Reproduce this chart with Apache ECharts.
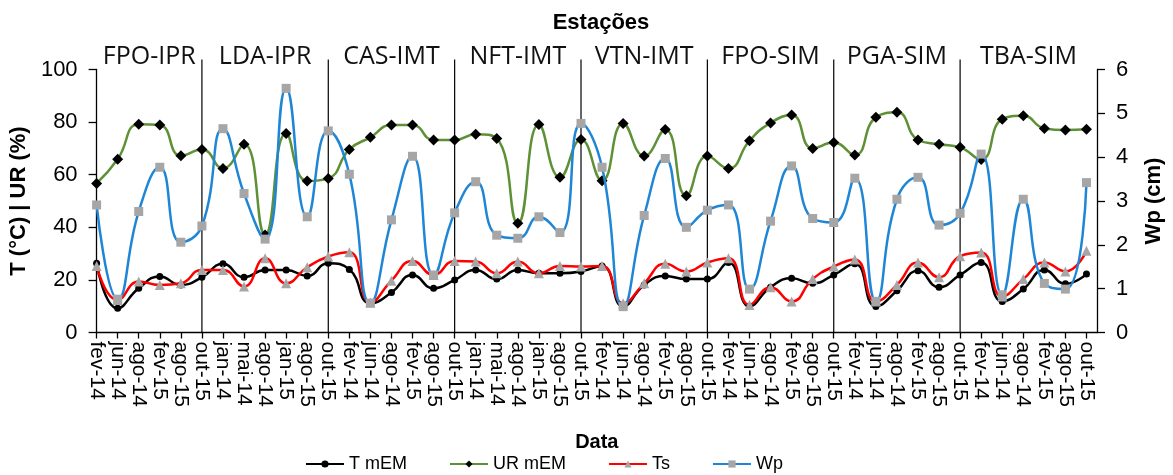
<!DOCTYPE html>
<html>
<head>
<meta charset="utf-8">
<script src="https://cdn.jsdelivr.net/npm/echarts@6/dist/echarts.min.js"></script>
<style>
  html, body { margin: 0; padding: 0; background: #fff; }
  #chart { width: 1173px; height: 475px; }
</style>
</head>
<body>
<div id="chart"></div>
<script>
// Stations, each with six sampling dates
const stations = ['FPO-IPR', 'LDA-IPR', 'CAS-IMT', 'NFT-IMT', 'VTN-IMT', 'FPO-SIM', 'PGA-SIM', 'TBA-SIM'];

const dateLabels = [
  'fev-14', 'jun-14', 'ago-14', 'fev-15', 'ago-15', 'out-15',
  'jan-14', 'mai-14', 'ago-14', 'jan-15', 'ago-15', 'out-15',
  'fev-14', 'jun-14', 'ago-14', 'fev-15', 'ago-15', 'out-15',
  'jan-14', 'mai-14', 'ago-14', 'jan-15', 'ago-15', 'out-15',
  'fev-14', 'jun-14', 'ago-14', 'fev-15', 'ago-15', 'out-15',
  'fev-14', 'jun-14', 'ago-14', 'fev-15', 'ago-15', 'out-15',
  'fev-14', 'jun-14', 'ago-14', 'fev-15', 'ago-15', 'out-15',
  'fev-14', 'jun-14', 'ago-14', 'fev-15', 'ago-15', 'out-15'
];

// Mean air temperature (°C)
const tMEM = [
  26.3, 9.2, 16.8, 21.3, 18.1, 21.0,
  26.1, 21.0, 23.8, 23.8, 21.5, 26.3,
  24.0, 11.1, 15.2, 21.9, 16.8, 20.0,
  23.8, 20.3, 23.8, 22.5, 22.5, 23.2,
  25.3, 9.9, 18.1, 21.5, 20.3, 20.3,
  26.6, 9.9, 17.2, 20.6, 18.7, 21.9,
  26.1, 9.9, 15.9, 23.5, 17.2, 21.9,
  26.6, 11.8, 16.5, 23.8, 18.5, 22.2
];

// Mean relative humidity (%)
const urMEM = [
  56.7, 65.9, 79.2, 78.9, 67.2, 69.6,
  62.4, 71.6, 37.1, 75.7, 57.6, 58.6,
  69.6, 74.2, 78.9, 78.9, 73.2, 73.2,
  75.4, 73.8, 41.5, 79.1, 59.0, 73.4,
  57.7, 79.5, 67.1, 77.2, 52.0, 67.1,
  62.4, 72.9, 79.7, 82.7, 70.0, 72.2,
  67.5, 81.8, 83.7, 73.2, 71.6, 70.4,
  65.8, 81.1, 82.4, 77.6, 77.0, 77.3
];

// Soil temperature (°C)
const ts = [
  25.3, 12.4, 19.4, 18.1, 18.7, 23.8,
  23.8, 17.5, 28.2, 18.7, 24.8, 28.9,
  30.5, 11.4, 19.7, 27.2, 21.9, 27.2,
  27.0, 22.5, 27.0, 22.5, 25.3, 25.1,
  25.3, 11.1, 18.7, 26.1, 23.2, 26.6,
  28.2, 10.5, 17.2, 11.8, 20.3, 25.1,
  27.8, 11.8, 18.1, 26.6, 21.0, 29.0,
  30.4, 13.7, 20.3, 26.6, 23.2, 31.1
];

// Soil water content Wp (cm)
const wp = [
  2.91, 0.76, 2.76, 3.77, 2.06, 2.43,
  4.65, 3.17, 2.13, 5.57, 2.64, 4.60,
  3.61, 0.67, 2.57, 4.02, 1.31, 2.73,
  3.44, 2.22, 2.15, 2.64, 2.28, 4.77,
  3.77, 0.59, 2.67, 3.97, 2.40, 2.79,
  2.91, 0.99, 2.54, 3.80, 2.60, 2.51,
  3.52, 0.71, 3.04, 3.54, 2.45, 2.72,
  4.07, 0.86, 3.04, 1.12, 0.99, 3.42
];

const leftTicks = [0, 20, 40, 60, 80, 100];
const rightTicks = [0, 1, 2, 3, 4, 5, 6];

const FONT = 'Liberation Sans, Arial, sans-serif';
const perStation = dateLabels.length / stations.length;
const idx = dateLabels.map((_, i) => i);
const xMax = dateLabels.length - 0.5;
const pairs = arr => arr.map((v, i) => [i, v]);

// Station separators sit on the last date of each station
const separators = stations.slice(0, -1).map((_, s) => (s + 1) * perStation - 1);
const bounds = stations.map((_, s) => [s === 0 ? 0 : s * perStation - 1,
                                       s === stations.length - 1 ? xMax : (s + 1) * perStation - 1]);

const chart = echarts.init(document.getElementById('chart'), null, { renderer: 'canvas' });

const axisLine = { show: true, lineStyle: { color: '#000', width: 1.3 } };

chart.setOption({
  animation: false,
  backgroundColor: '#fff',
  textStyle: { fontFamily: FONT },
  title: {
    text: 'Estações',
    left: 596,
    textAlign: 'center',
    top: 7,
    textStyle: { fontFamily: FONT, fontWeight: 'bold', fontSize: 22, color: '#000' }
  },
  grid: { left: 89.5, right: 76, top: 69.5, bottom: 142.5, containLabel: false },
  legend: {
    left: 300,
    top: 450,
    itemWidth: 38,
    itemHeight: 9,
    itemGap: 42,
    textStyle: { fontFamily: FONT, fontSize: 18, color: '#000' },
    data: ['T mEM', 'UR mEM', 'Ts', 'Wp']
  },
  xAxis: {
    type: 'value',
    min: 0,
    max: xMax,
    name: 'Data',
    nameLocation: 'middle',
    nameGap: 100,
    nameTextStyle: { fontFamily: FONT, fontWeight: 'bold', fontSize: 20, color: '#000' },
    axisLine: axisLine,
    axisTick: { show: true, customValues: idx, length: 6, lineStyle: { color: '#000', width: 1.3 } },
    axisLabel: {
      show: true,
      customValues: idx,
      rotate: -90,
      margin: 9,
      hideOverlap: false,
      fontFamily: FONT,
      fontSize: 21,
      color: '#000',
      formatter: v => dateLabels[Math.round(v)]
    },
    splitLine: { show: false }
  },
  yAxis: [
    {
      type: 'value',
      min: 0,
      max: 100,
      interval: 20,
      name: 'T (°C) | UR (%)',
      nameLocation: 'middle',
      nameGap: 56,
      nameRotate: 90,
      nameTextStyle: { fontFamily: FONT, fontWeight: 'bold', fontSize: 22, color: '#000' },
      axisLine: axisLine,
      axisTick: { show: true, length: 8, lineStyle: { color: '#000', width: 1.3 } },
      axisLabel: { fontFamily: FONT, fontSize: 22, color: '#000', margin: 19,
                   formatter: v => leftTicks.includes(v) ? String(v) : '' },
      splitLine: { show: false }
    },
    {
      type: 'value',
      min: 0,
      max: 6,
      interval: 1,
      position: 'right',
      name: 'Wp (cm)',
      nameLocation: 'middle',
      nameGap: 46,
      nameRotate: 90,
      nameTextStyle: { fontFamily: FONT, fontWeight: 'bold', fontSize: 22, color: '#000' },
      axisLine: axisLine,
      axisTick: { show: true, length: 8, lineStyle: { color: '#000', width: 1.3 } },
      axisLabel: { fontFamily: FONT, fontSize: 22, color: '#000', margin: 19,
                   formatter: v => rightTicks.includes(v) ? String(v) : '' },
      splitLine: { show: false }
    }
  ],
  series: [
    {
      // vertical separators between stations, reaching a little above the plot
      name: 'separators',
      type: 'custom',
      silent: true,
      z: 1,
      data: separators.map(x => [x, 0]),
      encode: { x: 0, y: 1 },
      renderItem: (params, api) => {
        const x = api.value(0);
        const p0 = api.coord([x, 0]);
        const p1 = api.coord([x, 100]);
        return {
          type: 'line',
          shape: { x1: p0[0], y1: p0[1], x2: p1[0], y2: p1[1] - 10 },
          style: { stroke: '#000', lineWidth: 1.2 }
        };
      }
    },
    {
      name: 'T mEM',
      type: 'line',
      smooth: 0.5,
      data: pairs(tMEM),
      symbol: 'circle',
      symbolSize: 7,
      lineStyle: { color: '#000', width: 2.5 },
      itemStyle: { color: '#000' },
      z: 3,
      markArea: {
        silent: true,
        itemStyle: { color: 'rgba(0,0,0,0)' },
        label: {
          show: true,
          position: 'top',
          distance: 0,
          fontFamily: 'Open Sans, sans-serif',
          fontSize: 25,
          color: '#111'
        },
        data: bounds.map((b, s) => [{ name: stations[s], coord: [b[0], 100] }, { coord: [b[1], 100] }])
      }
    },
    {
      name: 'UR mEM',
      type: 'line',
      smooth: 0.5,
      data: pairs(urMEM),
      symbol: 'diamond',
      symbolSize: 11,
      lineStyle: { color: '#5e9035', width: 2.5 },
      itemStyle: { color: '#000' },
      z: 4
    },
    {
      name: 'Ts',
      type: 'line',
      smooth: 0.5,
      data: pairs(ts),
      symbol: 'triangle',
      symbolSize: 10,
      lineStyle: { color: '#ff0000', width: 2.5 },
      itemStyle: { color: '#a6a6a6' },
      z: 5
    },
    {
      name: 'Wp',
      type: 'line',
      yAxisIndex: 1,
      smooth: 0.5,
      data: pairs(wp),
      symbol: 'rect',
      symbolSize: 9,
      lineStyle: { color: '#1f86d6', width: 2.5 },
      itemStyle: { color: '#a6a6a6' },
      z: 6
    }
  ]
});
</script>
</body>
</html>
